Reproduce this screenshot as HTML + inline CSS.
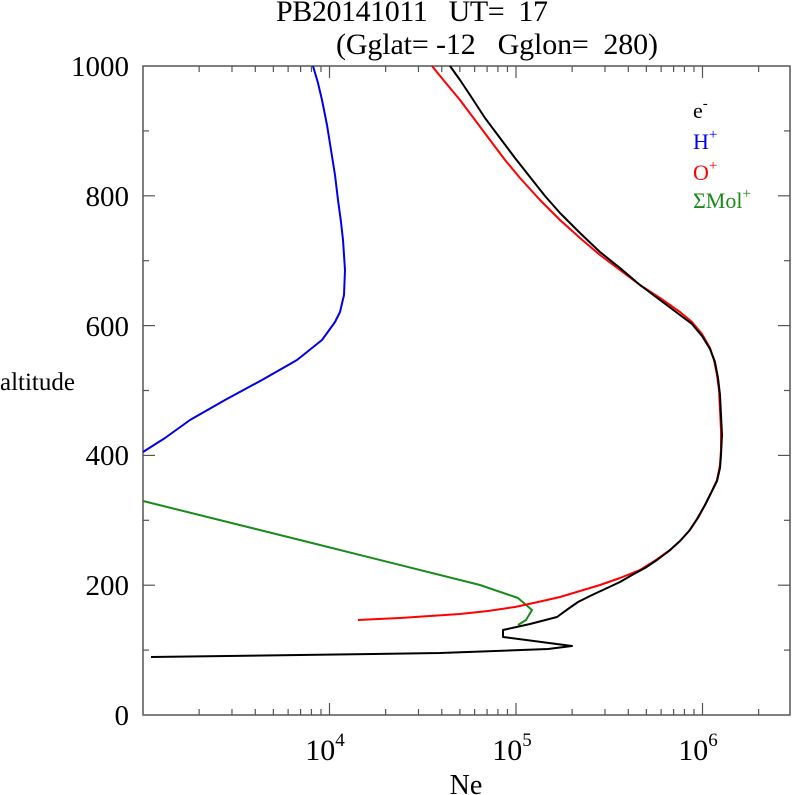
<!DOCTYPE html>
<html><head><meta charset="utf-8"><style>body{margin:0;background:#fff}svg{display:block}text{white-space:pre}</style></head><body>
<svg width="792" height="795" xmlns="http://www.w3.org/2000/svg" font-family="Liberation Serif, serif">
<rect width="792" height="795" fill="#fff"/>
<text x="412" y="21" font-size="30" text-anchor="middle" textLength="272" style="white-space:pre">PB20141011   UT=  17</text>
<text x="497" y="54" font-size="30" text-anchor="middle" textLength="322" style="white-space:pre">(Gglat= -12   Gglon=  280)</text>
<g id="ticks" stroke="#555" stroke-width="1.2">
<rect x="143" y="66" width="647" height="649" fill="none" stroke="#555" stroke-width="1.5"/>
</g>
<g fill="#000" font-size="29" text-anchor="end">
<text x="129" y="76">1000</text><text x="129" y="206">800</text><text x="129" y="336">600</text><text x="129" y="465">400</text><text x="129" y="595">200</text><text x="129" y="725">0</text>
</g>
<text x="0" y="390" font-size="25">altitude</text>
<g font-size="30" text-anchor="middle">
<text x="325" y="760">10<tspan font-size="19" dy="-14">4</tspan></text>
<text x="512" y="760">10<tspan font-size="19" dy="-14">5</tspan></text>
<text x="698" y="760">10<tspan font-size="19" dy="-14">6</tspan></text>
</g>
<text x="466" y="794" font-size="28" text-anchor="middle">Ne</text>
<g fill="none" stroke-width="2" stroke-linejoin="round">
<polyline stroke="#0000ee" points="313,66 318,83 322,100 327,125 331,150 335,175 338,200 341,222 343,240 344,255 345,270 344,295 340,312 335,322 322,340 297,360 262,380 225,400 190,420 165,438 143,452"/>
<polyline stroke="#1a8a1a" points="143,501 300,540 480,585 518,598 532,610 526,620 518,625"/>
<polyline stroke="#ff0000" points="432,66 445,82 460,100 475,120 490,140 505,160 520,178 540,200 560,220 580,238 600,255 620,270 640,285 660,298 680,312 692,322 702,334 710,348 714,360 717,375 719,390 720,410 721,430 721,450 720,465 717,480 711,493 705,505 698,518 690,530 680,541 670,550 656,560 640,570 620,578 600,585 580,591 560,597 538,602 515,607 488,611 460,614 430,616 400,618 378,619 358,620"/>
<polyline stroke="#000" points="450,66 460,80 470,95 485,118 500,138 515,158 530,177 545,196 560,213 580,233 600,252 620,268 640,285 660,300 680,315 692,324 702,336 710,349 715,362 718,378 720,395 721,415 722,435 721,455 720,468 717,481 711,493 705,505 697,519 689,531 680,541 669,551 657,560 645,568 632,575 620,582 605,589 590,596 578,602 568,609 557,617 530,624 503,630 503,637 572,646 548,649 440,653 300,655 151,657"/>
</g>
<g font-size="22">
<text x="693" y="118">e<tspan font-size="15" dy="-10">-</tspan></text>
<text x="693" y="149" fill="#0000ee">H<tspan font-size="15" dy="-10">+</tspan></text>
<text x="693" y="180" fill="#ff0000">O<tspan font-size="15" dy="-10">+</tspan></text>
<text x="693" y="208" fill="#1a8a1a">ΣMol<tspan font-size="15" dy="-10">+</tspan></text>
</g>
<script>
var g=document.getElementById('ticks'),ns='http://www.w3.org/2000/svg';
function L(x1,y1,x2,y2){var l=document.createElementNS(ns,'line');l.setAttribute('x1',x1);l.setAttribute('y1',y1);l.setAttribute('x2',x2);l.setAttribute('y2',y2);g.appendChild(l);}
var x0=143,d=186.5;
for(var e=3;e<7;e++)for(var m=1;m<10;m++){var x=x0+(e-3+Math.log10(m))*d;if(x<=x0+1||x>789)continue;var len=m==1?12:6;L(x,715,x,715-len);L(x,66,x,66+len);}
for(var a=100;a<1000;a+=100){var y=715-a*0.649;var len=a%200==0?12:6;L(143,y,143+len,y);L(790,y,790-len,y);}
</script>
</svg>
</body></html>
